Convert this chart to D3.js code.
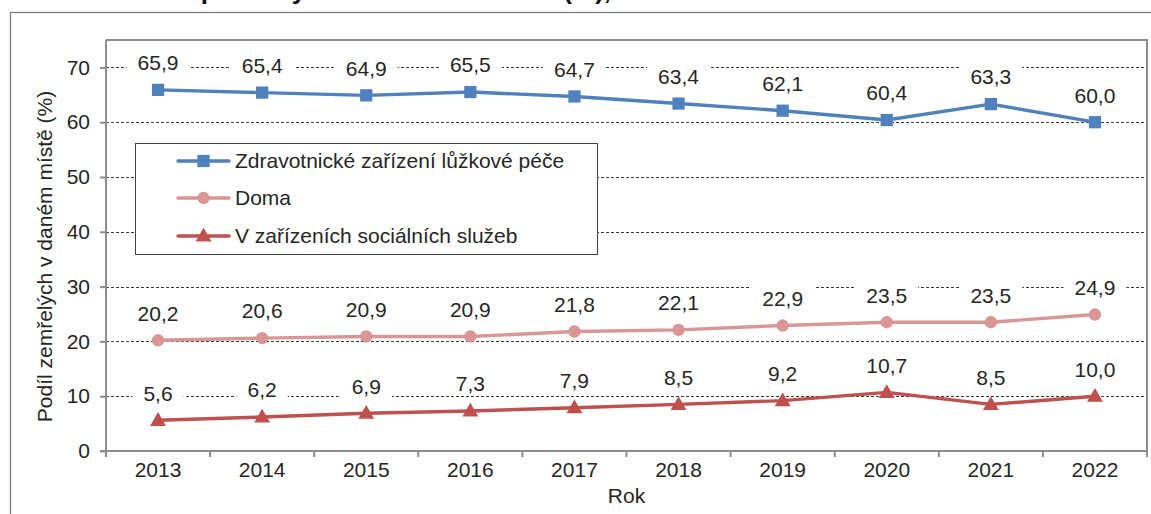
<!DOCTYPE html>
<html>
<head>
<meta charset="utf-8">
<script src="https://cdn.jsdelivr.net/npm/d3@7"></script>
<style>
  html, body { margin: 0; padding: 0; background: #fff; }
  svg { display: block; font-family: "Liberation Sans", Arial, sans-serif; }
</style>
</head>
<body>
<svg id="chart" width="1151" height="514"></svg>
<script>
// Years on the category axis
const years = ["2013", "2014", "2015", "2016", "2017", "2018", "2019", "2020", "2021", "2022"];

// Share of deaths by place of death (%)
const hospitalCare = [65.9, 65.4, 64.9, 65.5, 64.7, 63.4, 62.1, 60.4, 63.3, 60.0];
const atHome = [20.2, 20.6, 20.9, 20.9, 21.8, 22.1, 22.9, 23.5, 23.5, 24.9];
const socialCare = [5.6, 6.2, 6.9, 7.3, 7.9, 8.5, 9.2, 10.7, 8.5, 10.0];

// Series names shown in the legend
const seriesNames = [
  "Zdravotnické zařízení lůžkové péče",
  "Doma",
  "V zařízeních sociálních služeb"
];

// Value axis ticks
const yTicks = [0, 10, 20, 30, 40, 50, 60, 70];

const titleText = "Graf 1: Zemřelí podle vybraného místa úmrtí (%), 2013–2022";
const yAxisTitle = "Podíl zemřelých v daném místě (%)";
const xAxisTitle = "Rok";

const series = [
  { name: seriesNames[0], values: hospitalCare, color: "#4F81BD", marker: "square" },
  { name: seriesNames[1], values: atHome, color: "#D99694", marker: "circle" },
  { name: seriesNames[2], values: socialCare, color: "#C0504D", marker: "triangle" }
];

const svg = d3.select("#chart");
const textColor = "#262626";
const fontSize = 21;

// Plot area
const plot = { left: 106, right: 1147, top: 40, bottom: 451 };

const x = d3.scaleBand().domain(years).range([plot.left, plot.right]).padding(0);
const y = d3.scaleLinear().domain([0, 75]).range([plot.bottom, plot.top]);

// Title, mostly above the top edge of the page
svg.append("text")
  .attr("x", 10)
  .attr("y", -1.5)
  .attr("font-size", 26)
  .attr("font-weight", "bold")
  .attr("fill", "#111")
  .text(titleText);

// Outer chart frame
svg.append("rect")
  .attr("x", 10.5).attr("y", 12.5)
  .attr("width", 1200).attr("height", 600)
  .attr("fill", "none")
  .attr("stroke", "#7f7f7f")
  .attr("stroke-width", 1.3);

// Horizontal dotted gridlines
svg.append("g")
  .selectAll("line")
  .data(yTicks.filter(d => d > 0))
  .join("line")
  .attr("x1", plot.left).attr("x2", plot.right)
  .attr("y1", d => Math.round(y(d)) + 0.5)
  .attr("y2", d => Math.round(y(d)) + 0.5)
  .attr("stroke", "#3a3a3a")
  .attr("stroke-width", 1)
  .attr("stroke-dasharray", "3,2");

// Plot area border (top and right)
svg.append("path")
  .attr("d", `M${plot.left},${plot.top}H${plot.right}V${plot.bottom}`)
  .attr("fill", "none")
  .attr("stroke", "#8c8c8c")
  .attr("stroke-width", 2);

// Y axis
const yAxis = d3.axisLeft(y).tickValues(yTicks).tickSize(6).tickPadding(10).tickFormat(d3.format("d"));
const gy = svg.append("g").attr("transform", `translate(${plot.left},0)`).call(yAxis);
gy.select(".domain").attr("stroke", "#8c8c8c").attr("stroke-width", 2)
  .attr("d", `M-6,${plot.bottom}H0V${plot.top}`);
gy.selectAll(".tick line").attr("stroke", "#8c8c8c").attr("stroke-width", 2);
gy.selectAll(".tick text").attr("font-size", fontSize).attr("fill", textColor)
  .attr("font-family", "Liberation Sans, Arial, sans-serif");

// X axis with tick marks between categories
const xAxis = d3.axisBottom(x).tickSize(0).tickPadding(11);
const gx = svg.append("g").attr("transform", `translate(0,${plot.bottom})`).call(xAxis);
gx.select(".domain").attr("stroke", "#8c8c8c").attr("stroke-width", 2)
  .attr("d", `M${plot.left},0H${plot.right}`);
gx.selectAll(".tick text").attr("font-size", fontSize).attr("fill", textColor)
  .attr("font-family", "Liberation Sans, Arial, sans-serif");
const boundaries = years.map(d => x(d)).concat([x(years[years.length - 1]) + x.bandwidth()]);
gx.append("g").selectAll("line")
  .data(boundaries)
  .join("line")
  .attr("x1", d => d).attr("x2", d => d)
  .attr("y1", 0).attr("y2", 6)
  .attr("stroke", "#8c8c8c").attr("stroke-width", 2);

// Axis titles
svg.append("text")
  .attr("transform", `translate(52,${(plot.top + plot.bottom) / 2 + 11}) rotate(-90)`)
  .attr("text-anchor", "middle")
  .attr("font-size", fontSize)
  .attr("fill", textColor)
  .text(yAxisTitle);

svg.append("text")
  .attr("x", (plot.left + plot.right) / 2)
  .attr("y", 503)
  .attr("text-anchor", "middle")
  .attr("font-size", fontSize)
  .attr("fill", textColor)
  .text(xAxisTitle);

// Marker symbols
function markerPath(type, size) {
  const sym = type === "square" ? d3.symbolSquare : type === "circle" ? d3.symbolCircle : d3.symbolTriangle;
  return d3.symbol().type(sym).size(size)();
}
const markerSize = { square: 150, circle: 120, triangle: 110 };

const cx = d => x(d) + x.bandwidth() / 2;
const line = d3.line().x((v, i) => cx(years[i])).y(v => y(v));

// Lines and markers
series.forEach(s => {
  const g = svg.append("g");
  g.append("path")
    .attr("d", line(s.values))
    .attr("fill", "none")
    .attr("stroke", s.color)
    .attr("stroke-width", 3.4)
    .attr("stroke-linejoin", "round");
  g.selectAll("path.mk")
    .data(s.values)
    .join("path")
    .attr("class", "mk")
    .attr("transform", (v, i) => `translate(${cx(years[i])},${y(v) + (s.marker === "triangle" ? 1 : 0)})`)
    .attr("d", markerPath(s.marker, markerSize[s.marker]))
    .attr("fill", s.color);
});

// Data labels with white background above each point
const fmt = v => d3.format(".1f")(v).replace(".", ",");
series.forEach(s => {
  const g = svg.append("g");
  s.values.forEach((v, i) => {
    const lx = cx(years[i]);
    const ly = y(v) - 27;
    const t = g.append("text")
      .attr("x", lx)
      .attr("y", ly)
      .attr("dy", "0.35em")
      .attr("text-anchor", "middle")
      .attr("font-size", fontSize)
      .attr("fill", textColor)
      .text(fmt(v));
    const bb = t.node().getBBox();
    g.insert("rect", () => t.node())
      .attr("x", bb.x - 11).attr("y", bb.y)
      .attr("width", bb.width + 22).attr("height", bb.height)
      .attr("fill", "#fff");
  });
});

// Legend
const legend = svg.append("g");
const lg = { x: 135, y: 143, w: 462, h: 111 };
legend.append("rect")
  .attr("x", lg.x + 0.5).attr("y", lg.y + 0.5)
  .attr("width", lg.w).attr("height", lg.h)
  .attr("fill", "#fff")
  .attr("stroke", "#404040")
  .attr("stroke-width", 1);
const rowY = [161, 198, 236];
series.forEach((s, i) => {
  const ry = rowY[i];
  legend.append("line")
    .attr("x1", 178).attr("x2", 229)
    .attr("y1", ry).attr("y2", ry)
    .attr("stroke", s.color).attr("stroke-width", 3.4)
    .attr("stroke-linecap", "round");
  legend.append("path")
    .attr("transform", `translate(203.5,${ry + (s.marker === "triangle" ? 1 : 0)})`)
    .attr("d", markerPath(s.marker, markerSize[s.marker]))
    .attr("fill", s.color);
  legend.append("text")
    .attr("x", 235).attr("y", ry)
    .attr("dy", "0.35em")
    .attr("font-size", fontSize)
    .attr("fill", textColor)
    .text(s.name);
});
</script>
</body>
</html>
